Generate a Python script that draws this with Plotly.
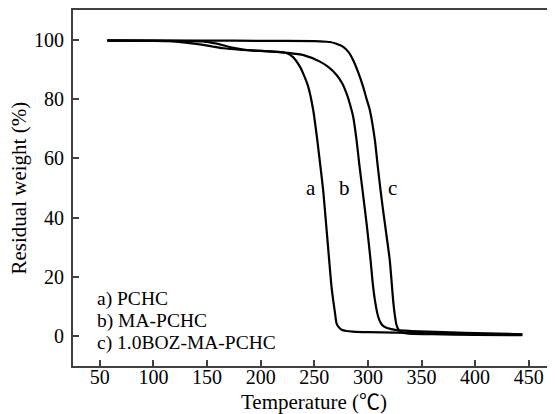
import plotly.graph_objects as go

# Curve a) PCHC
temp_a = [57, 100, 115, 130, 145, 155, 165, 180, 200, 215, 224, 230, 236.6, 240, 244.4, 249, 252.8,
          255.5, 258.3, 261, 263.9, 266, 267.6, 269.3, 270.8, 273, 275.5, 280, 286, 300, 350, 400, 444]
wt_a = [99.7, 99.6, 99.5, 99.0, 98.3, 97.7, 97.1, 96.6, 96.2, 95.9, 95.5, 94.2, 90.9, 88.3, 84.1, 76.3, 66.2,
        58, 49.3, 38, 25.7, 17, 12.3, 8, 4.4, 3.0, 2.2, 1.8, 1.6, 1.4, 1.1, 0.8, 0.6]

# Curve b) MA-PCHC
temp_b = [57, 100, 146, 155, 162, 170, 180, 190, 200, 215, 224.3, 240, 255.3, 263, 270.8, 276, 280.1,
          283.5, 286.3, 289.4, 292, 295, 298.8, 302.5, 304.5, 306.5, 309.6, 312, 314.2, 318, 326.7,
          340, 370, 410, 444]
wt_b = [99.7, 99.6, 99.4, 98.9, 98.4, 97.6, 96.9, 96.4, 96.2, 95.9, 95.6, 94.8, 92.6, 90.8, 88.1, 85.3, 81.9,
        78, 74, 66.2, 58, 49.3, 38, 25.7, 18, 12.3, 6.6, 4.5, 3.5, 2.8, 2.1,
        1.8, 1.4, 1.0, 0.7]

# Curve c) 1.0BOZ-MA-PCHC
temp_c = [57, 150, 200, 250, 261.4, 264.6, 270, 277, 282, 286.3, 291, 295.6, 298.8, 301.8, 306.5, 309,
          311.8, 314, 317, 320.4, 322, 323.5, 325, 326.7, 328.5, 331, 336, 360, 400, 444]
wt_c = [99.8, 99.7, 99.6, 99.5, 99.3, 99.2, 98.7, 97.6, 95.8, 93.1, 89, 84.1, 80, 76.3, 66.2, 58,
        49.3, 43, 35, 25.7, 19, 12.3, 7.5, 3.8, 2.3, 1.5, 1.0, 0.7, 0.5, 0.4]

curve_labels = ["a", "b", "c"]
curve_label_x = [247.4, 278.4, 323.4]
curve_label_y = [50, 50, 50]

legend_texts = ["a) PCHC", "b) MA-PCHC", "c) 1.0BOZ-MA-PCHC"]
legend_x = 45.5
legend_y = [12.6, 5.2, -2.2]

x_ticks = [50, 100, 150, 200, 250, 300, 350, 400, 450]
y_ticks = [0, 20, 40, 60, 80, 100]

FONT = "Liberation Serif, Times New Roman, Noto Sans CJK SC, serif"

fig = go.Figure()
for t, w in [(temp_a, wt_a), (temp_b, wt_b), (temp_c, wt_c)]:
    fig.add_trace(go.Scatter(x=t, y=w, mode="lines",
                             line=dict(color="black", width=2.2, shape="spline", smoothing=0.6),
                             showlegend=False, hoverinfo="skip"))

for lab, lx, ly in zip(curve_labels, curve_label_x, curve_label_y):
    fig.add_annotation(x=lx, y=ly, text=lab, showarrow=False, xanchor="center", yanchor="middle",
                       font=dict(family=FONT, size=21, color="black"))

for txt, ly in zip(legend_texts, legend_y):
    fig.add_annotation(x=legend_x, y=ly, text=txt, showarrow=False, xanchor="left", yanchor="middle",
                       font=dict(family=FONT, size=19.5, color="black"))

fig.add_annotation(xref="paper", yref="paper", x=-0.111, y=0.5, text="Residual weight (%)", textangle=-90,
                   showarrow=False, xanchor="center", yanchor="middle",
                   font=dict(family=FONT, size=21, color="black"))
fig.add_annotation(xref="paper", yref="paper", x=0.5, y=-0.101, text="Temperature (℃)",
                   showarrow=False, xanchor="center", yanchor="middle",
                   font=dict(family=FONT, size=21, color="black"))

# page has an 8px body margin: figure drawn at (8, 8)
fig.update_layout(
    width=547, height=406,
    margin=dict(l=65, r=0, t=2, b=48),
    paper_bgcolor="white", plot_bgcolor="white",
    font=dict(family=FONT, size=20, color="black"),
)
fig.update_xaxes(range=[25, 474.5], tickvals=x_ticks, showgrid=False, zeroline=False,
                 showline=True, linecolor="#404040", linewidth=2, mirror=True,
                 ticks="inside", ticklen=6, tickwidth=1.5, tickcolor="#404040",
                 tickfont=dict(family=FONT, size=20, color="black"), ticklabelstandoff=-8)
fig.update_yaxes(range=[-10, 110], tickvals=y_ticks, showgrid=False, zeroline=False,
                 showline=True, linecolor="#404040", linewidth=2, mirror=False,
                 ticks="inside", ticklen=6, tickwidth=1.5, tickcolor="#404040",
                 tickfont=dict(family=FONT, size=20, color="black"), ticklabelstandoff=3)

fig.write_html("out.html")
